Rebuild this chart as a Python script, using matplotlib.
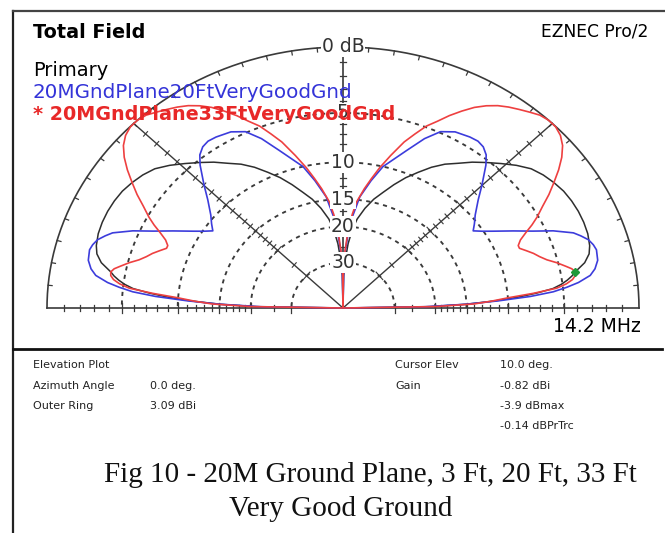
import numpy as np
import matplotlib.pyplot as plt

# elevation pattern, 0-90 deg (pattern is symmetric, mirrored for 90-180)
# gains in dB relative to the outer ring (0 dB = 3.09 dBi)
black_elev = [0, 1, 2, 3, 4, 5, 6, 7, 8, 9, 10, 12, 14, 16, 19, 22, 25, 28, 31, 34, 37, 40,
              43, 46, 49, 52, 55, 58, 61, 64, 67, 70, 73, 76, 79, 82, 84, 86, 88, 89, 90]
black_db = [-99, -21, -15, -11.5, -9, -7.2, -5.8, -5.1, -4.6, -4.2, -3.9, -3.1, -2.65, -2.45,
            -2.3, -2.25, -2.25, -2.3, -2.4, -2.6, -2.85, -3.2, -3.8, -4.5, -5.2, -5.9, -6.7,
            -7.4, -8.3, -9.4, -10.5, -11.8, -13.2, -14.5, -16.2, -18.3, -20.5, -24, -30, -36, -99]

blue_elev = [0, 1, 2, 3, 4, 5, 6, 7, 8.5, 10, 12, 14.6, 16, 17.5, 19, 20.3, 22.6, 24.7, 27.2,
             30.2, 32, 33.9, 36, 38.6, 42.2, 45.1, 48.6, 50.5, 52.5, 54.5, 56.8, 60.7, 64, 67,
             70.3, 73, 76, 79, 82.4, 85.8, 88, 89, 90]
blue_db = [-99, -22, -15, -11, -7.8, -5.8, -4.7, -3.8, -2.9, -2.5, -2.2, -2.1, -2.2, -2.4, -2.8,
           -3.2, -4.5, -6.0, -7.5, -9.2, -10.1, -10.9, -10.3, -9.6, -8.3, -7.0, -5.4, -4.7,
           -4.3, -4.15, -4.2, -4.4, -4.9, -6.0, -7.6, -8.8, -10, -12, -14.5, -19.2, -26, -32, -99]

red_elev = [0, 1, 2, 3, 4, 5, 6, 7, 8, 9, 10, 11, 12, 13.5, 15, 16.5, 18, 19.5, 21, 22, 23.5,
            25, 26.5, 28, 30, 32, 34, 36, 38, 40, 42, 44, 46, 48, 50, 52, 54, 56, 58, 60, 62,
            64, 66, 68, 70, 72, 74.6, 77, 79, 81, 83.5, 85, 86.7, 88.5, 89.5, 90]
red_db = [-99, -20, -14, -11.8, -10, -7.5, -5.5, -4.7, -4.2, -3.95, -3.9, -4.1, -4.5, -5.1,
          -5.8, -6.3, -6.7, -7.2, -7.7, -7.7, -7.3, -6.6, -5.8, -5.1, -4.3, -3.4, -2.6, -1.8,
          -1.1, -0.55, -0.2, -0.02, 0, -0.1, -0.35, -0.6, -0.85, -1.15, -1.55, -2.05, -2.7,
          -3.4, -4.2, -4.9, -5.9, -6.9, -8.6, -10.2, -11.7, -13.2, -15.3, -17.5, -20.7, -27,
          -35, -99]

ring_db = [5, 10, 15, 20, 30]
cursor_elev = 10.0
cursor_db = -3.9

W, H = 665, 533
CX, CY = 343, 308      # plot centre in pixels
RX, RY = 296, 261      # outer ring radius in pixels (screenshot is squashed)

fig = plt.figure(figsize=(6.65, 5.33), dpi=100)
ax = fig.add_axes([0, 0, 1, 1])
ax.set_xlim(-CX / RX, (W - CX) / RX)
ax.set_ylim(-(H - CY) / RY, CY / RY)
ax.axis('off')

GRID = '#3a3a3a'


def rad(db):
    # ARRL log scale
    return 0.89 ** (-np.asarray(db, dtype=float) / 2.0)


def mirror(elev, db):
    e = np.asarray(elev, dtype=float)
    d = np.asarray(db, dtype=float)
    return np.concatenate([e, 180 - e[::-1][1:]]), np.concatenate([d, d[::-1][1:]])


def polar_xy(elev, db):
    t = np.radians(elev)
    r = rad(db)
    return r * np.cos(t), r * np.sin(t)


def fpos(x, y):
    return x / W, 1 - y / H


# outer ring and radial lines
t = np.linspace(0, np.pi, 400)
ax.plot(np.cos(t), np.sin(t), color=GRID, lw=1.2, zorder=2)
ax.plot([-1, 1], [0, 0], color=GRID, lw=1.2, zorder=2)
ax.plot([0, 0], [0, 1], color=GRID, lw=1.2, zorder=2)
for a in [45, 135]:
    ax.plot([0, np.cos(np.radians(a))], [0, np.sin(np.radians(a))], color=GRID, lw=1.0, zorder=2)

# dashed dB rings
for d in ring_db:
    r = rad(-d)
    ax.plot(r * np.cos(t), r * np.sin(t), color=GRID, lw=1.35, ls=(0, (2.2, 2.4)), zorder=2)

# ticks on outer ring every 5 deg
for a in range(5, 180, 5):
    c, s = np.cos(np.radians(a)), np.sin(np.radians(a))
    ax.plot([c, (RX - 4) / RX * c], [s, (RY - 4) / RY * s], color=GRID, lw=0.9, zorder=2)

# ticks along the radial lines
tick_db = list(range(1, 21)) + [25, 30]
for d in tick_db:
    r = rad(-d)
    L = 5 if d in ring_db else 3
    ax.plot([r, r], [-L / RY, L / RY], color=GRID, lw=0.9, zorder=2)
    ax.plot([-r, -r], [-L / RY, L / RY], color=GRID, lw=0.9, zorder=2)
    ax.plot([-L / RX, L / RX], [r, r], color=GRID, lw=0.9, zorder=2)
    for a in [45, 135]:
        c, s = np.cos(np.radians(a)), np.sin(np.radians(a))
        px, py = r * c * RX, r * s * RY
        n = np.hypot(RX * c, RY * s)
        nx, ny = -RY * s / n, RX * c / n
        ax.plot([(px - L * nx) / RX, (px + L * nx) / RX],
                [(py - L * ny) / RY, (py + L * ny) / RY], color=GRID, lw=0.8, zorder=2)

# traces
for elev, db, col, lw, z in [(black_elev, black_db, '#2e2e2e', 1.1, 3),
                             (blue_elev, blue_db, '#3c3cdc', 1.2, 4),
                             (red_elev, red_db, '#ee4040', 1.2, 5)]:
    e, d = mirror(elev, db)
    x, y = polar_xy(e, d)
    ax.plot(x, y, color=col, lw=lw, zorder=z, solid_joinstyle='round')

cx, cy = polar_xy(cursor_elev, cursor_db)
ax.plot(cx, cy, marker='D', ms=4, color='#1f9a3a', zorder=6)

# ring labels
lab_kw = dict(ha='center', va='center', fontsize=13.5, color='#333333', family='DejaVu Sans',
              bbox=dict(fc='white', ec='none', pad=0.5), zorder=7)
ax.text(0, 1, '0 dB', **lab_kw)
for d in ring_db:
    ax.text(0, rad(-d), str(d), **lab_kw)

# header / legend
sans = 'DejaVu Sans'
fig.text(*fpos(33, 32), 'Total Field', fontsize=13.8, weight='bold', family=sans, va='center', zorder=10)
fig.text(*fpos(648, 32), 'EZNEC Pro/2', fontsize=12.3, family=sans, va='center', ha='right', zorder=10)
fig.text(*fpos(33, 70), 'Primary', fontsize=14, family=sans, va='center', zorder=10)
fig.text(*fpos(33, 93), '20MGndPlane20FtVeryGoodGnd', fontsize=14.3, family=sans, color='#3434d8',
         va='center', zorder=10)
fig.text(*fpos(33, 115), '* 20MGndPlane33FtVeryGoodGnd', fontsize=13.8, weight='bold', family=sans,
         color='#e82828', va='center', zorder=10)
fig.text(*fpos(641, 327), '14.2 MHz', fontsize=13.5, family=sans, va='center', ha='right')

# frame and separator
fig.add_artist(plt.Line2D([13 / W, 13 / W], [0, 1 - 11 / H], color='#222222', lw=1.6))
fig.add_artist(plt.Line2D([13 / W, 1], [1 - 11 / H, 1 - 11 / H], color='#444444', lw=1.6))
fig.add_artist(plt.Line2D([13 / W, 662 / W], [1 - 349 / H, 1 - 349 / H], color='#111111', lw=2.0))

# info block
info = [(33, 365, 'Elevation Plot'), (33, 386, 'Azimuth Angle'), (150, 386, '0.0 deg.'),
        (33, 406, 'Outer Ring'), (150, 406, '3.09 dBi'),
        (395, 365, 'Cursor Elev'), (500, 365, '10.0 deg.'),
        (395, 386, 'Gain'), (500, 386, '-0.82 dBi'),
        (500, 406, '-3.9 dBmax'), (500, 426, '-0.14 dBPrTrc')]
for x, y, s in info:
    fig.text(*fpos(x, y), s, fontsize=8, family=sans, va='center', color='#222222')

# caption
fig.text(*fpos(104, 475), 'Fig 10 - 20M Ground Plane, 3 Ft, 20 Ft, 33 Ft', fontsize=21,
         family='Liberation Serif', va='center', color='#111111')
fig.text(*fpos(229, 509), 'Very Good Ground', fontsize=21, family='Liberation Serif',
         va='center', color='#111111')

fig.savefig('out.png', dpi=100, facecolor='white')
